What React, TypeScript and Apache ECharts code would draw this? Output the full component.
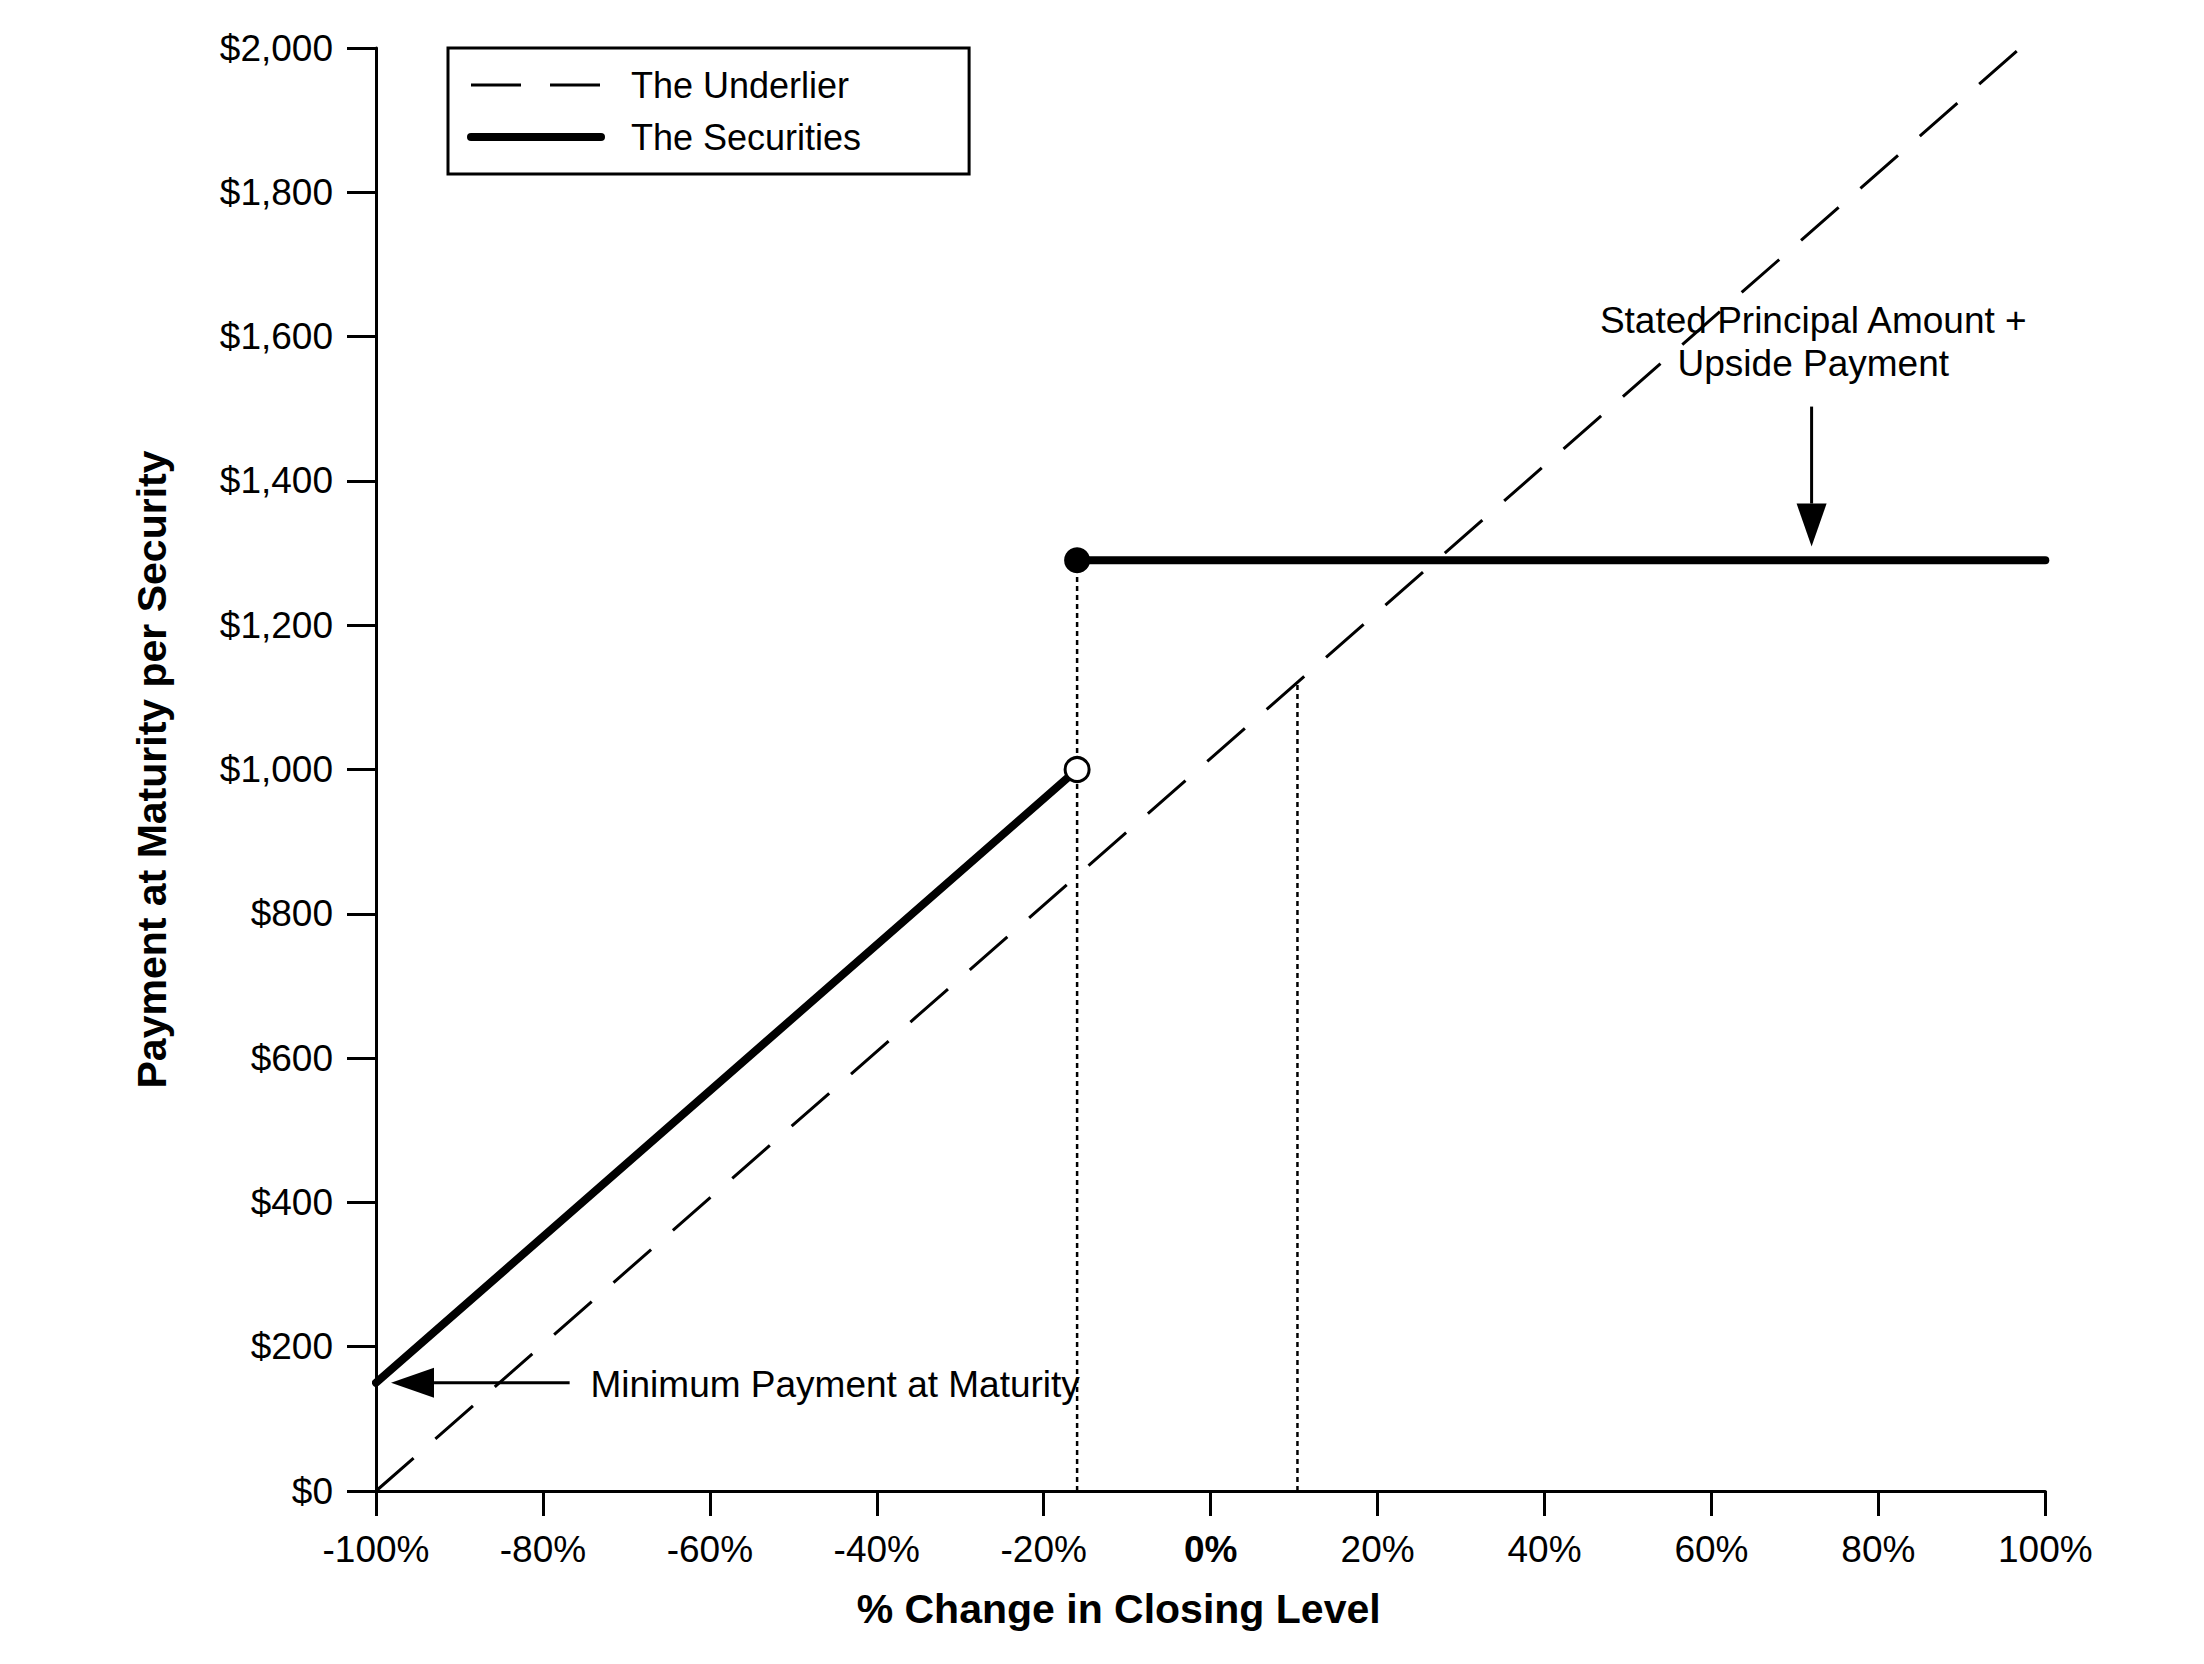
import React, { useEffect, useRef } from 'react';
import * as echarts from 'echarts';

const FONT = '"Liberation Sans", Arial, Helvetica, sans-serif';

// Underlier (dashed) line: % change -> payment
const underlierX = [-100, 97];
const underlierY = [0, 2000];

// Securities: lower leg and upper (capped) leg
const securitiesLowX = [-100, -16];
const securitiesLowY = [150, 1000];
const securitiesHighX = [-16, 100];
const securitiesHighY = [1290, 1290];

// Dotted vertical reference lines
const refLineX = [-16, 10.4];
const refLineTop = [1290, 1120];

// Markers
const filledMarker = [-16, 1290];
const openMarker = [-16, 1000];

// Annotation arrows (start -> tip)
const arrowStarts = [
  [-76.8, 150],
  [72.0, 1503],
];
const arrowEnds = [
  [-98.2, 150],
  [72.0, 1309],
];

// Annotation texts
const annotationTexts = ['Minimum Payment at Maturity', 'Stated Principal Amount +\nUpside Payment'];
const annotationPos = [
  [-74.3, 148],
  [72.2, 1592],
];
const annotationAlign = ['left', 'center'];

const fmtDollar = (v: number) => {
  if (v >= 1000) {
    const th = Math.floor(v / 1000);
    const rest = String(v % 1000).padStart(3, '0');
    return `$${th},${rest}`;
  }
  return `$${v}`;
};

export default function App() {
  const ref = useRef<HTMLDivElement>(null);
  useEffect(() => {
    if (!ref.current) return;
    const chart = echarts.init(ref.current, undefined, { renderer: 'svg' });
    const dotted = [5, 4];
    const hiddenSymbol = { color: 'rgba(0,0,0,0)', opacity: 0, borderWidth: 0 };
    const option: any = {
      animation: false,
      backgroundColor: '#fff',
      grid: { left: 376, right: 158.7, top: 48, bottom: 173, containLabel: false },
      legend: {
        left: 448,
        top: 48,
        orient: 'vertical',
        selectedMode: false,
        padding: [19, 108, 19, 19],
        itemWidth: 130,
        itemHeight: 20,
        itemGap: 16,
        borderColor: '#000',
        borderWidth: 3,
        backgroundColor: '#fff',
        textStyle: { fontSize: 36, fontFamily: FONT, color: '#000', lineHeight: 36, padding: [0, 0, 0, 25] },
        data: [
          { name: 'The Underlier', lineStyle: { width: 3 }, itemStyle: hiddenSymbol },
          { name: 'The Securities', lineStyle: { width: 8 }, itemStyle: hiddenSymbol },
        ],
      },
      xAxis: {
        type: 'value',
        min: -100,
        max: 100,
        interval: 20,
        axisLine: { show: true, onZero: false, lineStyle: { color: '#000', width: 3 } },
        axisTick: { show: true, length: 25, lineStyle: { color: '#000', width: 3 } },
        splitLine: { show: false },
        axisLabel: {
          margin: 40,
          fontSize: 37,
          fontFamily: FONT,
          color: '#000',
          formatter: (v: number) => (v === 0 ? '{b|0%}' : `${v}%`),
          rich: { b: { fontWeight: 'bold', fontSize: 37, fontFamily: FONT, color: '#000' } },
        },
        name: '% Change in Closing Level',
        nameLocation: 'middle',
        nameGap: 97,
        nameTextStyle: { fontSize: 41, fontWeight: 'bold', fontFamily: FONT, color: '#000', padding: [0, 184, 0, 0] },
      },
      yAxis: {
        type: 'value',
        min: 0,
        max: 2000,
        interval: 200,
        axisLine: { show: true, onZero: false, lineStyle: { color: '#000', width: 3 } },
        axisTick: { show: true, length: 29, lineStyle: { color: '#000', width: 3 } },
        splitLine: { show: false },
        axisLabel: { margin: 43, fontSize: 37, fontFamily: FONT, color: '#000', formatter: fmtDollar },
        name: 'Payment at Maturity per Security',
        nameLocation: 'middle',
        nameGap: 204,
        nameTextStyle: { fontSize: 41, fontWeight: 'bold', fontFamily: FONT, color: '#000' },
      },
      series: [
        ...refLineX.map((x, i) => ({
          type: 'line',
          name: `ref${i}`,
          symbol: 'none',
          z: 1,
          silent: true,
          data: [
            [x, 0],
            [x, refLineTop[i]],
          ],
          lineStyle: { color: '#000', width: 2.5, type: dotted },
        })),
        {
          type: 'line',
          name: 'The Underlier',
          symbol: 'none',
          z: 2,
          data: underlierX.map((x, i) => [x, underlierY[i]]),
          lineStyle: { color: '#000', width: 3, type: [50, 29] },
          itemStyle: { color: '#000' },
        },
        {
          type: 'line',
          name: 'The Securities',
          symbol: 'none',
          z: 3,
          data: securitiesLowX.map((x, i) => [x, securitiesLowY[i]]),
          lineStyle: { color: '#000', width: 8, cap: 'round' },
          itemStyle: { color: '#000' },
        },
        {
          type: 'line',
          name: 'The Securities',
          symbol: 'none',
          z: 3,
          data: securitiesHighX.map((x, i) => [x, securitiesHighY[i]]),
          lineStyle: { color: '#000', width: 8, cap: 'round' },
          itemStyle: { color: '#000' },
        },
        {
          type: 'scatter',
          name: 'filled',
          z: 5,
          symbol: 'circle',
          symbolSize: 26,
          data: [filledMarker],
          itemStyle: { color: '#000', opacity: 1 },
        },
        {
          type: 'scatter',
          name: 'open',
          z: 5,
          symbol: 'circle',
          symbolSize: 24,
          data: [openMarker],
          itemStyle: { color: '#fff', borderColor: '#000', borderWidth: 3, opacity: 1 },
        },
        {
          type: 'custom',
          name: 'arrows',
          z: 6,
          silent: true,
          clip: false,
          encode: { x: [0, 2], y: [1, 3] },
          data: arrowStarts.map((s, i) => [s[0], s[1], arrowEnds[i][0], arrowEnds[i][1]]),
          renderItem: (params: any, api: any) => {
            const p1 = api.coord([api.value(0), api.value(1)]);
            const p2 = api.coord([api.value(2), api.value(3)]);
            const dx = p2[0] - p1[0];
            const dy = p2[1] - p1[1];
            const len = Math.hypot(dx, dy) || 1;
            const ux = dx / len;
            const uy = dy / len;
            const headLen = 43;
            const half = 15;
            const bx = p2[0] - ux * headLen;
            const by = p2[1] - uy * headLen;
            const nx = -uy;
            const ny = ux;
            return {
              type: 'group',
              children: [
                {
                  type: 'line',
                  shape: { x1: p1[0], y1: p1[1], x2: bx, y2: by },
                  style: { stroke: '#000', lineWidth: 3 },
                },
                {
                  type: 'polygon',
                  shape: {
                    points: [
                      [p2[0], p2[1]],
                      [bx + nx * half, by + ny * half],
                      [bx - nx * half, by - ny * half],
                    ],
                  },
                  style: { fill: '#000' },
                },
              ],
            };
          },
        },
        {
          type: 'custom',
          name: 'annotations',
          z: 6,
          silent: true,
          clip: false,
          encode: { x: 0, y: 1 },
          data: annotationPos,
          renderItem: (params: any, api: any) => {
            const i = params.dataIndex;
            const p = api.coord([api.value(0), api.value(1)]);
            return {
              type: 'text',
              x: p[0],
              y: p[1],
              style: {
                text: annotationTexts[i],
                fill: '#000',
                fontSize: 37,
                fontFamily: FONT,
                align: annotationAlign[i],
                verticalAlign: 'middle',
                lineHeight: 43,
              },
            };
          },
        },
      ],
    };
    chart.setOption(option);
    return () => chart.dispose();
  }, []);
  return (
    <div
      ref={ref}
      style={{ position: 'fixed', left: 0, top: 0, width: '2204px', height: '1664px', background: '#fff' }}
    />
  );
}
